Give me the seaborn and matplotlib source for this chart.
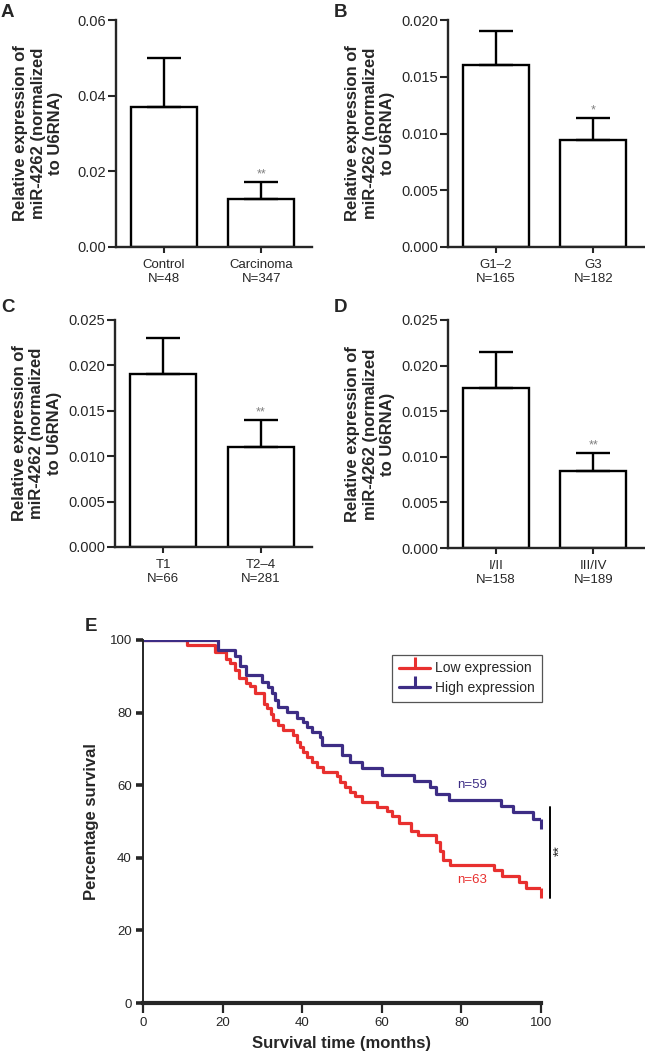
import pandas as pd
import matplotlib
matplotlib.use("Agg")
import matplotlib.pyplot as plt
from matplotlib.lines import Line2D
import seaborn as sns

#%% data

# bar panels A-D (mean and upper end of error bar)
cats_A = ["Control\nN=48", "Carcinoma\nN=347"]
mean_A = [0.037, 0.0127]
top_A = [0.050, 0.0172]

cats_B = ["G1\u20132\nN=165", "G3\nN=182"]
mean_B = [0.016, 0.0094]
top_B = [0.019, 0.0114]

cats_C = ["T1\nN=66", "T2\u20134\nN=281"]
mean_C = [0.019, 0.011]
top_C = [0.023, 0.014]

cats_D = ["I/II\nN=158", "III/IV\nN=189"]
mean_D = [0.0175, 0.0084]
top_D = [0.0215, 0.0104]

stars = ["**", "*", "**", "**"]
ymax = [0.06, 0.02, 0.025, 0.025]
ystep = [0.02, 0.005, 0.005, 0.005]
yfmt = ["%.2f", "%.3f", "%.3f", "%.3f"]
letters = ["A", "B", "C", "D"]

# Kaplan-Meier steps (time in months, % survival after step)
low_t = [0, 11.1, 18.1, 20.9, 21.9, 23.1, 24.2, 25.9, 26.9, 28.1, 30.4, 31.1,
         32.1, 32.7, 34.0, 35.3, 37.8, 38.6, 39.4, 40.3, 41.1, 42.4, 43.6, 45.3,
         48.7, 49.5, 50.8, 52.0, 53.3, 54.9, 58.7, 61.2, 62.5, 64.2, 67.4, 69.0,
         73.6, 74.7, 75.5, 77.2, 88.1, 90.2, 94.5, 96.2, 100]
low_s = [100, 98.6, 96.8, 94.9, 93.6, 91.7, 89.4, 88.1, 87.2, 85.3, 82.5, 81.2,
         79.6, 78.0, 76.6, 75.2, 73.8, 72.0, 70.6, 69.2, 67.9, 66.5, 65.1, 63.7,
         62.4, 61.0, 59.6, 58.2, 56.9, 55.5, 54.1, 52.8, 51.4, 49.6, 47.5, 46.2,
         44.3, 42.0, 39.3, 38.0, 36.6, 34.9, 33.4, 31.8, 31.8]

high_t = [0, 18.8, 23.1, 24.4, 26.0, 29.8, 31.5, 32.3, 33.2, 34.0, 36.1, 38.6,
          40.3, 41.1, 42.4, 44.5, 45.1, 49.9, 52.0, 54.9, 60.0, 68.0, 72.0, 73.5,
          77.0, 90.0, 93.0, 98.0, 100]
high_s = [100, 97.2, 95.5, 92.8, 90.4, 88.5, 87.1, 85.3, 83.5, 81.6, 80.3, 78.4,
          77.4, 76.0, 74.7, 73.4, 71.0, 68.2, 66.5, 64.7, 62.8, 61.2, 59.4, 57.6,
          56.0, 54.3, 52.5, 50.6, 50.6]

red = "#E8302F"
blue = "#3D2D85"

#%% figure

sns.set_style("ticks")
plt.rcParams['font.family'] = ['Liberation Sans', 'DejaVu Sans']

W, H = 645, 1059
fig = plt.figure(figsize=(W / 100, H / 100), dpi=100)


def px_axes(left, right, top, bottom):
    return fig.add_axes([left / W, 1 - bottom / H, (right - left) / W, (bottom - top) / H])


boxes = [(116, 312, 20, 247), (448, 644, 20, 247), (115, 312, 320, 547), (448, 644, 320, 548)]
letter_pos = [(1, 4), (334, 4), (1, 299), (334, 299)]
all_cats = [cats_A, cats_B, cats_C, cats_D]
all_mean = [mean_A, mean_B, mean_C, mean_D]
all_top = [top_A, top_B, top_C, top_D]

for i in range(4):
    ax = px_axes(*boxes[i])
    df = pd.DataFrame({'group': all_cats[i], 'value': all_mean[i]})
    sns.barplot(data=df, x='group', y='value', ax=ax, width=0.68, color='white',
                edgecolor='black', linewidth=1.7, errorbar=None)
    errs = [t - m for t, m in zip(all_top[i], all_mean[i])]
    ax.errorbar(x=[0, 1], y=all_mean[i], yerr=[[0, 0], errs], fmt='none',
                ecolor='black', elinewidth=1.7, capsize=12, capthick=1.7)
    ax.annotate(stars[i], xy=(1, all_top[i][1]), xytext=(0, 1),
                textcoords='offset points', ha='center', va='bottom',
                fontsize=9, color='#808080')
    ax.set_xlim(-0.49, 1.52)
    ax.set_ylim(0, ymax[i])
    n = int(round(ymax[i] / ystep[i]))
    ax.set_yticks([k * ystep[i] for k in range(n + 1)])
    ax.yaxis.set_major_formatter(matplotlib.ticker.FormatStrFormatter(yfmt[i]))
    ax.set_xlabel('')
    ax.set_ylabel('Relative expression of\nmiR-4262 (normalized\nto U6RNA)',
                  fontsize=12, fontweight='bold', linespacing=1.2)
    ax.yaxis.set_label_coords(-0.27, 0.5)
    for s in ['left', 'bottom']:
        ax.spines[s].set_linewidth(1.7)
    sns.despine(ax=ax)
    ax.tick_params(axis='y', length=5.5, width=1.5, pad=1.5, labelsize=10.5)
    ax.tick_params(axis='x', length=4.5, width=1.5, pad=4, labelsize=9.5)
    ax.set_facecolor('none')
    fig.text(letter_pos[i][0] / W, 1 - letter_pos[i][1] / H, letters[i],
             fontsize=13.5, fontweight='bold', va='top', ha='left')

#%% survival panel E

ax = px_axes(143, 541, 640, 1003)
sns.lineplot(x=low_t, y=low_s, ax=ax, drawstyle='steps-post', estimator=None,
             color=red, linewidth=2.3, sort=False)
sns.lineplot(x=high_t, y=high_s, ax=ax, drawstyle='steps-post', estimator=None,
             color=blue, linewidth=2.3, sort=False)
ax.plot([low_t[-1]], [low_s[-1]], marker=3, ms=7, mew=2.2, color=red, clip_on=False)
ax.plot([high_t[-1]], [high_s[-1]], marker=3, ms=7, mew=2.2, color=blue, clip_on=False)

ax.set_xlim(0, 100)
ax.set_ylim(0, 100)
ax.set_xticks([0, 20, 40, 60, 80, 100])
ax.set_yticks([0, 20, 40, 60, 80, 100])
ax.set_xlabel('Survival time (months)', fontsize=12, fontweight='bold', labelpad=5)
ax.set_ylabel('Percentage survival', fontsize=12, fontweight='bold')
ax.yaxis.set_label_coords(-0.11, 0.5)
sns.despine(ax=ax)
ax.spines['left'].set_linewidth(1.4)
ax.spines['bottom'].set_linewidth(3)
ax.tick_params(axis='x', length=7, width=1.6, pad=3, labelsize=9.5)
ax.tick_params(axis='y', length=5, width=2.6, pad=3, labelsize=9.5)
ax.set_facecolor('none')

ax.text(82.7, 60, 'n=59', color=blue, fontsize=9.5, ha='center', va='center')
ax.text(82.7, 34, 'n=63', color=red, fontsize=9.5, ha='center', va='center')
ax.plot([102.3, 102.3], [29, 54], color='black', lw=1.4, clip_on=False)
ax.text(104.8, 42, '**', rotation=90, fontsize=10, ha='center', va='center', clip_on=False)

handles = [Line2D([], [], color=red, lw=2.3, marker=2, ms=8, mew=2.2),
           Line2D([], [], color=blue, lw=2.3, marker=2, ms=8, mew=2.2)]
leg = ax.legend(handles, ['Low expression', 'High expression'], loc='upper right',
                bbox_to_anchor=(1.003, 0.96), borderaxespad=0, fontsize=10,
                handlelength=2.2, numpoints=1, fancybox=False, framealpha=1,
                edgecolor='#555555', borderpad=0.5, labelspacing=0.4, handletextpad=0.4)
leg.get_frame().set_linewidth(0.9)

fig.text(85 / W, 1 - 618 / H, 'E', fontsize=13.5, fontweight='bold', va='top', ha='left')

fig.savefig('out.png', dpi=100)
